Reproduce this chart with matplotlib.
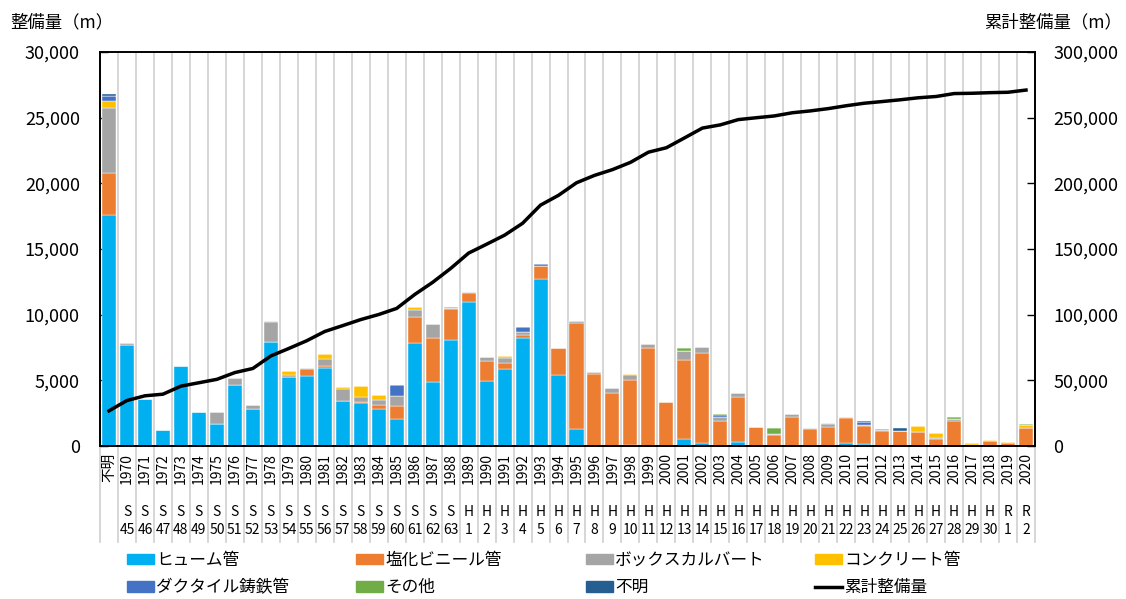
import numpy as np
import matplotlib
matplotlib.use('Agg')
import matplotlib.pyplot as plt
from matplotlib.patches import Patch
from matplotlib.lines import Line2D

plt.rcParams['font.family'] = ['Noto Sans CJK JP', 'DejaVu Sans']

# categories
years = ['不明'] + [str(y) for y in range(1970, 2021)]
era = [''] + ['S'] * 19 + ['H'] * 30 + ['R'] * 2
era_no = [''] + [str(n) for n in range(45, 64)] + [str(n) for n in range(1, 31)] + ['1', '2']

# series (m)
hume = [17620, 7720, 3580, 1230, 6060, 2590, 1700, 4620, 2790, 7900,
        5280, 5300, 5920, 3450, 3300, 2840, 2030, 7840, 4900, 8050,
        10940, 4930, 5840, 8250, 12740, 5380, 1270, 0, 0, 100,
        30, 0, 530, 250, 30, 330, 0, 0, 0, 30,
        30, 200, 150, 0, 30, 0, 0, 0, 0, 0,
        0, 0]
pvc = [3200, 0, 0, 0, 0, 0, 0, 0, 0, 0,
       0, 540, 170, 0, 80, 260, 1040, 1960, 3350, 2360,
       690, 1570, 480, 230, 970, 2080, 8120, 5480, 4060, 4950,
       7460, 3380, 5990, 6860, 1850, 3430, 1420, 810, 2230, 1260,
       1440, 1910, 1400, 1140, 1110, 1090, 510, 1900, 80, 380,
       230, 1400]
box = [4950, 150, 0, 0, 60, 0, 900, 530, 330, 1570,
       100, 80, 540, 870, 330, 430, 760, 580, 1040, 100,
       70, 260, 410, 200, 0, 0, 150, 150, 330, 380,
       280, 0, 720, 410, 350, 250, 0, 100, 210, 50,
       180, 80, 70, 60, 0, 0, 80, 150, 0, 0,
       0, 0]
concrete = [500, 0, 0, 0, 0, 0, 0, 0, 0, 70,
            300, 0, 400, 150, 880, 330, 0, 180, 0, 0,
            0, 0, 150, 0, 0, 0, 0, 0, 0, 80,
            0, 0, 0, 0, 0, 0, 0, 0, 0, 0,
            100, 0, 0, 0, 0, 430, 400, 0, 150, 80,
            70, 180]
ductile = [400, 0, 0, 0, 0, 0, 0, 0, 0, 0,
           0, 0, 0, 0, 0, 0, 820, 0, 0, 0,
           0, 0, 0, 360, 150, 0, 0, 0, 0, 0,
           0, 0, 0, 0, 110, 0, 0, 0, 0, 0,
           0, 0, 230, 80, 0, 0, 0, 0, 0, 0,
           0, 0]
other = [0, 0, 0, 0, 0, 0, 0, 0, 0, 0,
         0, 0, 0, 0, 0, 0, 0, 0, 0, 50,
         0, 0, 0, 0, 0, 0, 0, 0, 0, 0,
         0, 0, 200, 0, 120, 0, 0, 440, 0, 60,
         0, 0, 0, 0, 0, 0, 0, 180, 0, 0,
         0, 100]
unknown = [100, 0, 0, 0, 0, 0, 0, 0, 0, 0,
           0, 0, 0, 0, 0, 0, 0, 0, 0, 0,
           0, 0, 0, 0, 0, 0, 0, 0, 0, 0,
           0, 0, 0, 0, 0, 0, 0, 0, 0, 0,
           0, 0, 60, 0, 200, 0, 0, 0, 0, 0,
           0, 0]

series = [('ヒューム管', hume, '#00B0F0'),
          ('塩化ビニール管', pvc, '#ED7D31'),
          ('ボックスカルバート', box, '#A5A5A5'),
          ('コンクリート管', concrete, '#FFC000'),
          ('ダクタイル鋳鉄管', ductile, '#4472C4'),
          ('その他', other, '#70AD47'),
          ('不明', unknown, '#255E91')]

W, H = 1126, 599
fig = plt.figure(figsize=(W / 100, H / 100), dpi=100)
L, R, T, B = 100, 1035, 52, 446
ax = fig.add_axes([L / W, 1 - B / H, (R - L) / W, (B - T) / H])

x = np.arange(len(years))
bottom = np.zeros(len(years))
for name, vals, col in series:
    v = np.array(vals, dtype=float)
    ax.bar(x, v, 0.78, bottom=bottom, color=col, edgecolor='white', linewidth=0.3, zorder=2)
    bottom += v
total = bottom
cum = np.cumsum(total)

ax.set_xlim(-0.5, len(years) - 0.5)
ax.set_ylim(0, 30000)
ax.set_yticks(np.arange(0, 30001, 5000))
ax.set_yticklabels(['{:,}'.format(v) for v in range(0, 30001, 5000)], fontsize=13)
ax.tick_params(axis='y', direction='in', length=6, width=1, pad=14.5)
ax.set_xticks([])
for s in ax.spines.values():
    s.set_linewidth(1.2)

# category separators (plot gridlines + label area)
lab_bottom = (B - 542) / (B - T)
trans = ax.get_xaxis_transform()
for b in np.arange(-0.5, len(years), 1.0):
    ax.plot([b, b], [lab_bottom, 1], color='#D0D0D0', lw=1.2, transform=trans,
            clip_on=False, zorder=0)

for i in range(len(years)):
    ax.text(x[i], (B - 453) / (B - T), years[i], rotation=90, ha='center', va='top',
            fontsize=10.5 if i == 0 else 10, transform=trans)
    ax.text(x[i], (B - 512) / (B - T), era[i], ha='center', va='center',
            fontsize=10, transform=trans)
    ax.text(x[i], (B - 530) / (B - T), era_no[i], ha='center', va='center',
            fontsize=10, transform=trans)

ax2 = ax.twinx()
ax2.plot(x, cum, color='black', lw=2.5, zorder=5)
ax2.set_ylim(0, 300000)
ax2.set_yticks(np.arange(0, 300001, 50000))
ax2.set_yticklabels(['{:,}'.format(v) for v in range(0, 300001, 50000)], fontsize=13)
ax2.tick_params(axis='y', direction='in', length=6, width=1, pad=13)
for s in ax2.spines.values():
    s.set_linewidth(1.2)

fig.text(10 / W, 1 - 22 / H, '整備量（m）', fontsize=12.5, ha='left', va='center')
fig.text(1122 / W, 1 - 22 / H, '累計整備量（m）', fontsize=12.5, ha='right', va='center')

# legend: four columns of two entries
handles = [Patch(color=c, label=n) for n, v, c in series]
handles.append(Line2D([], [], color='black', lw=2.5, label='累計整備量'))
cols = [(127, [0, 4]), (356, [1, 5]), (586, [2, 6]), (815, [3, 7])]
for xp, idx in cols:
    lg = fig.legend(handles=[handles[k] for k in idx], loc='center left',
                    bbox_to_anchor=(xp / W, 1 - 574 / H), frameon=False,
                    fontsize=12, handlelength=1.6, handleheight=0.6,
                    handletextpad=0.15, labelspacing=0.62, borderpad=0,
                    borderaxespad=0)

fig.savefig('out.png', dpi=100)
